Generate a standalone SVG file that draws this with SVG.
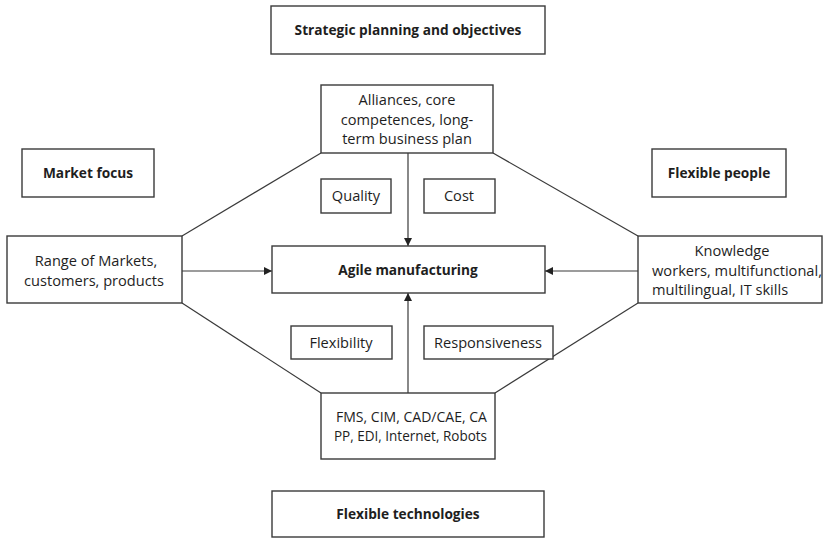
<svg xmlns="http://www.w3.org/2000/svg" width="824" height="539" viewBox="0 0 824 539">
  <style>
    .box { fill: #ffffff; stroke: #3a3a3a; stroke-width: 1.4; }
    .t { font-family: "Open Sans", "Liberation Sans", sans-serif; font-size: 14.6px; fill: #1e1e1e; text-anchor: middle; }
    .b { font-weight: bold; font-size: 13.7px; }
    .l { text-anchor: start; }
    .ln { stroke: #3a3a3a; stroke-width: 1.2; fill: none; }
  </style>
  <defs>
    <marker id="arr" viewBox="0 0 10 10" refX="10" refY="5" markerWidth="8" markerHeight="8" markerUnits="userSpaceOnUse" orient="auto">
      <path d="M0,0 L10,5 L0,10 z" fill="#222"/>
    </marker>
  </defs>
  <rect width="824" height="539" fill="#ffffff"/>

  <!-- connectors -->
  <g id="connectors">
    <line class="ln" x1="321" y1="153" x2="182" y2="236"/>
    <line class="ln" x1="493" y1="153" x2="638" y2="236"/>
    <line class="ln" x1="182" y1="303" x2="321" y2="393"/>
    <line class="ln" x1="638" y1="303" x2="495" y2="393"/>
    <line class="ln" x1="408" y1="153" x2="408" y2="246" marker-end="url(#arr)"/>
    <line class="ln" x1="408" y1="393" x2="408" y2="293" marker-end="url(#arr)"/>
    <line class="ln" x1="182" y1="271" x2="272" y2="271" marker-end="url(#arr)"/>
    <line class="ln" x1="638" y1="271" x2="545" y2="271" marker-end="url(#arr)"/>
  </g>

  <g id="strategic">
    <rect class="box" x="271" y="6" width="274" height="48"/>
    <text class="t b" x="408" y="35">Strategic planning and objectives</text>
  </g>
  <g id="alliances">
    <rect class="box" x="321" y="85" width="172" height="68"/>
    <text class="t" x="407" y="105">Alliances, core</text>
    <text class="t" x="407" y="125">competences, long-</text>
    <text class="t" x="407" y="144">term business plan</text>
  </g>
  <g id="market-focus">
    <rect class="box" x="22" y="149" width="132" height="48"/>
    <text class="t b" x="88" y="178">Market focus</text>
  </g>
  <g id="flexible-people">
    <rect class="box" x="652" y="149" width="134" height="48"/>
    <text class="t b" x="719" y="178">Flexible people</text>
  </g>
  <g id="quality">
    <rect class="box" x="321" y="179" width="70" height="34"/>
    <text class="t" x="356" y="201">Quality</text>
  </g>
  <g id="cost">
    <rect class="box" x="424" y="179" width="71" height="34"/>
    <text class="t" x="459" y="201">Cost</text>
  </g>
  <g id="markets">
    <rect class="box" x="7" y="236" width="175" height="67"/>
    <text class="t" x="96" y="266">Range of Markets,</text>
    <text class="t" x="94" y="286">customers, products</text>
  </g>
  <g id="agile">
    <rect class="box" x="272" y="246" width="273" height="47"/>
    <text class="t b" x="408" y="275">Agile manufacturing</text>
  </g>
  <g id="knowledge">
    <rect class="box" x="638" y="236" width="184" height="67"/>
    <text class="t" x="732" y="256">Knowledge</text>
    <text class="t l" x="652" y="276" textLength="170" lengthAdjust="spacingAndGlyphs">workers, multifunctional,</text>
    <text class="t l" x="652" y="295">multilingual, IT skills</text>
  </g>
  <g id="flexibility">
    <rect class="box" x="291" y="326" width="101" height="33"/>
    <text class="t" x="341" y="348">Flexibility</text>
  </g>
  <g id="responsiveness">
    <rect class="box" x="424" y="326" width="129" height="33"/>
    <text class="t" x="488" y="348">Responsiveness</text>
  </g>
  <g id="technologies">
    <rect class="box" x="321" y="393" width="174" height="66"/>
    <text class="t l" x="336" y="422" textLength="151" lengthAdjust="spacingAndGlyphs">FMS, CIM, CAD/CAE, CA</text>
    <text class="t l" x="334" y="441" textLength="153" lengthAdjust="spacingAndGlyphs">PP, EDI, Internet, Robots</text>
  </g>
  <g id="flexible-technologies">
    <rect class="box" x="272" y="491" width="272" height="46"/>
    <text class="t b" x="408" y="519">Flexible technologies</text>
  </g>
</svg>
